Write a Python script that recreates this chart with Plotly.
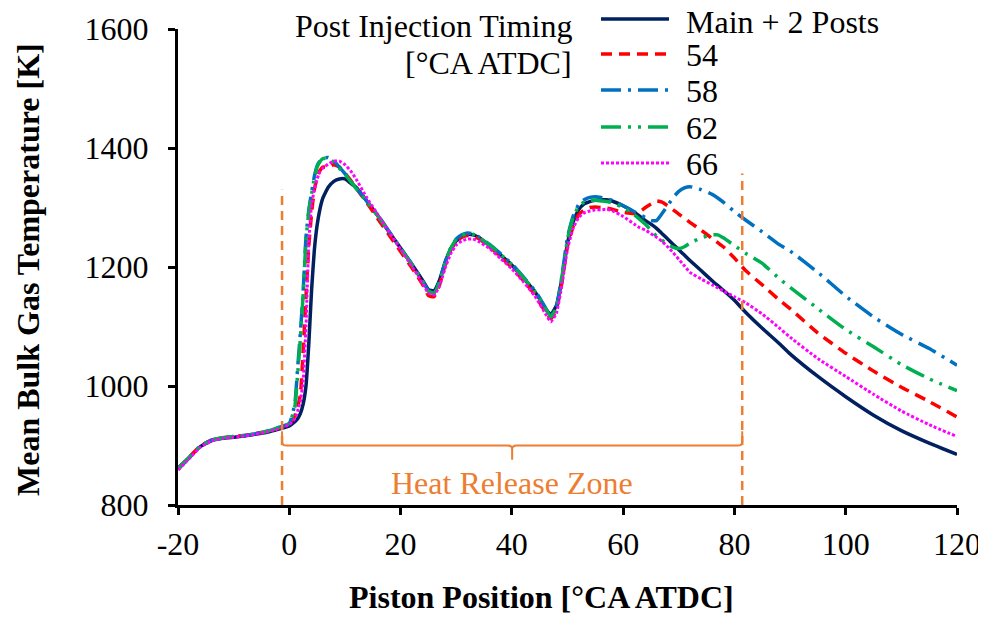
import plotly.graph_objects as go

# ---------------- data ----------------
crank = [-20, -18, -16, -14, -12, -10, -8, -6, -4, -2,
         0, 1, 1.5, 2, 2.5, 3, 3.5, 4, 4.5, 5,
         5.5, 6, 7, 8, 9, 10, 11, 12, 14, 16,
         18, 20, 22, 24, 25, 26, 27, 28, 29, 30,
         31, 32, 33, 34, 36, 38, 40, 42, 44, 45,
         46, 47, 48, 49, 50, 51, 52, 53, 54, 55,
         56, 57, 58, 60, 62, 63, 64, 65, 66, 67,
         68, 69, 70, 71, 72, 74, 76, 77, 78, 80,
         82, 85, 88, 90, 95, 100, 105, 110, 115, 120]

t_main = [862, 880, 898, 908, 912, 914, 916, 919, 922, 927,
          933, 940, 945, 954, 970, 1000, 1070, 1160, 1228, 1270,
          1297, 1315, 1334, 1344, 1348, 1348, 1341, 1334, 1310, 1285,
          1258, 1232, 1205, 1177, 1162, 1160, 1178, 1208, 1230, 1244,
          1251, 1255, 1254, 1250, 1236, 1220, 1203, 1182, 1160, 1146,
          1130, 1120, 1135, 1180, 1240, 1275, 1296, 1306, 1310, 1312,
          1313, 1313, 1311, 1303, 1292, 1285, 1278, 1272, 1265, 1256,
          1247, 1238, 1229, 1220, 1211, 1194, 1177, 1169, 1161, 1144,
          1124, 1097, 1072, 1054, 1016, 982, 951, 925, 904, 885]

t_54 = [860, 880, 899, 909, 913, 915, 917, 920, 924, 929,
        936, 950, 965, 985, 1060, 1150, 1235, 1290, 1330, 1350,
        1362, 1368, 1367, 1372, 1368, 1358, 1346, 1333, 1307, 1280,
        1253, 1226, 1199, 1170, 1152, 1150, 1170, 1203, 1228, 1243,
        1250, 1253, 1252, 1248, 1234, 1217, 1199, 1178, 1155, 1140,
        1125, 1113, 1128, 1175, 1235, 1268, 1288, 1296, 1300, 1301,
        1300, 1299, 1297, 1292, 1290, 1293, 1300, 1306, 1311, 1309,
        1303, 1296, 1289, 1282, 1275, 1262, 1248, 1241, 1234, 1215,
        1194, 1170, 1145, 1130, 1089, 1055, 1025, 998, 974, 948]

t_58 = [860, 879, 899, 909, 913, 915, 917, 920, 924, 930,
        937, 970, 1030, 1090, 1160, 1250, 1295, 1325, 1352, 1370,
        1378, 1383, 1384, 1378, 1368, 1357, 1345, 1333, 1310, 1286,
        1259, 1232, 1205, 1176, 1160, 1156, 1176, 1208, 1232, 1247,
        1254, 1257, 1256, 1251, 1238, 1222, 1205, 1184, 1162, 1148,
        1132, 1117, 1133, 1185, 1250, 1285, 1305, 1313, 1317, 1318,
        1317, 1315, 1312, 1303, 1293, 1288, 1283, 1278, 1278, 1290,
        1303, 1317, 1327, 1333, 1335, 1330, 1322, 1316, 1309, 1293,
        1279, 1259, 1238, 1227, 1191, 1151, 1116, 1087, 1063, 1035]

t_62 = [861, 880, 899, 909, 913, 915, 917, 920, 924, 930,
        937, 965, 1020, 1080, 1155, 1245, 1292, 1322, 1350, 1368,
        1377, 1382, 1383, 1376, 1366, 1356, 1344, 1332, 1309, 1285,
        1258, 1231, 1204, 1175, 1159, 1156, 1175, 1207, 1231, 1246,
        1253, 1256, 1255, 1250, 1237, 1221, 1204, 1183, 1161, 1147,
        1131, 1116, 1132, 1183, 1247, 1282, 1302, 1309, 1312, 1312,
        1311, 1310, 1308, 1300, 1288, 1280, 1272, 1262, 1252, 1245,
        1238, 1233, 1231, 1234, 1240, 1249, 1254, 1254, 1249, 1236,
        1223, 1206, 1181, 1166, 1130, 1095, 1066, 1036, 1012, 992]

t_66 = [859, 878, 897, 908, 912, 914, 916, 919, 923, 928,
        935, 945, 958, 975, 1010, 1100, 1240, 1305, 1330, 1348,
        1360, 1366, 1373, 1378, 1378, 1372, 1362, 1348, 1315, 1287,
        1258, 1230, 1202, 1172, 1156, 1153, 1168, 1198, 1222, 1237,
        1244, 1247, 1247, 1243, 1231, 1214, 1197, 1176, 1153, 1138,
        1122, 1108, 1122, 1170, 1230, 1265, 1283, 1291, 1294, 1296,
        1296, 1297, 1295, 1285, 1272, 1266, 1262, 1256, 1250, 1243,
        1234, 1224, 1213, 1202, 1191, 1180, 1170, 1165, 1160, 1150,
        1140, 1121, 1098, 1082, 1046, 1016, 986, 958, 935, 915]

series_names = ["Main + 2 Posts", "54", "58", "62", "66"]
series_values = [t_main, t_54, t_58, t_62, t_66]

x_ticks = [-20, 0, 20, 40, 60, 80, 100, 120]
y_ticks = [800, 1000, 1200, 1400, 1600]

hrz_start, hrz_end = -1.3, 81.4
hrz_top_start, hrz_top_end = 1330, 1357
brace_level, brace_tip, brace_end = 900, 876, 924
hrz_label = "Heat Release Zone"

# ---------------- styles ----------------
FONT = "Liberation Serif, Times New Roman, serif"
FS = 32
ORANGE = "#ED7D31"
colors = ["#002060", "#FF0000", "#0070C0", "#00B050", "#FF00FF"]
dashes = ["solid", "11px,7px", "20px,7px,3px,7px",
          "20px,7px,3px,7px,3px,7px", "3px,2px"]
widths = [3.5, 3.5, 3.5, 3.5, 3]

fig = go.Figure()
for name, vals, c, d, w in zip(series_names, series_values, colors, dashes, widths):
    fig.add_trace(go.Scatter(x=crank, y=vals, mode="lines", name=name,
                             line=dict(color=c, dash=d, width=w, shape="spline", smoothing=0.4),
                             showlegend=False))

# Heat release zone markers
shapes = []
shapes.append(dict(type="line", xref="x", yref="y", x0=hrz_start, x1=hrz_start,
                   y0=800, y1=hrz_top_start,
                   line=dict(color=ORANGE, width=2.5, dash="9px,6px")))
shapes.append(dict(type="line", xref="x", yref="y", x0=hrz_end, x1=hrz_end,
                   y0=800, y1=hrz_top_end,
                   line=dict(color=ORANGE, width=2.5, dash="9px,6px")))
mid = (hrz_start + hrz_end) / 2
path = (f"M {hrz_start},{brace_end} L {hrz_start},{brace_level+6} "
        f"Q {hrz_start},{brace_level} {hrz_start+0.8},{brace_level} "
        f"L {mid-0.8},{brace_level} Q {mid},{brace_level} {mid},{brace_level-6} "
        f"L {mid},{brace_tip} L {mid},{brace_level-6} "
        f"Q {mid},{brace_level} {mid+0.8},{brace_level} "
        f"L {hrz_end-0.8},{brace_level} Q {hrz_end},{brace_level} {hrz_end},{brace_level+6} "
        f"L {hrz_end},{brace_end}")
shapes.append(dict(type="path", xref="x", yref="y", path=path,
                   line=dict(color=ORANGE, width=2)))

annotations = [dict(x=mid, y=837, xref="x", yref="y", text=hrz_label,
                    showarrow=False, font=dict(family=FONT, size=FS, color=ORANGE),
                    xanchor="center", yanchor="middle")]

# manual legend (paper coords); screen px -> paper fraction of the plot area
def px_x(p):
    return (p - 178) / 779.0

def px_y(p):
    return (505 - p) / 476.0

leg_rows = [19, 54, 90, 127, 163]
text_rows = [22, 55, 91, 128, 164]
for name, c, d, w, row, trow in zip(series_names, colors, dashes, widths, leg_rows, text_rows):
    shapes.append(dict(type="line", xref="paper", yref="paper",
                       x0=px_x(601), x1=px_x(669), y0=px_y(row), y1=px_y(row),
                       line=dict(color=c, width=w, dash=d)))
    annotations.append(dict(x=px_x(684), y=px_y(trow), xref="paper", yref="paper",
                            text=name, showarrow=False, xanchor="left", yanchor="middle",
                            font=dict(family=FONT, size=FS, color="black")))

annotations.append(dict(x=px_x(574), y=px_y(26), xref="paper", yref="paper",
                        text="Post Injection Timing", showarrow=False,
                        xanchor="right", yanchor="middle",
                        font=dict(family=FONT, size=FS, color="black")))
annotations.append(dict(x=px_x(574), y=px_y(63), xref="paper", yref="paper",
                        text="[°CA ATDC]", showarrow=False,
                        xanchor="right", yanchor="middle",
                        font=dict(family=FONT, size=FS, color="black")))

# axis titles
annotations.append(dict(x=px_x(541), y=px_y(597), xref="paper", yref="paper",
                        text="<b>Piston Position [°CA ATDC]</b>", showarrow=False,
                        xanchor="center", yanchor="middle",
                        font=dict(family=FONT, size=FS, color="black")))
annotations.append(dict(x=px_x(28), y=px_y(270), xref="paper", yref="paper",
                        text="<b>Mean Bulk Gas Temperature [K]</b>", showarrow=False,
                        xanchor="center", yanchor="middle", textangle=-90,
                        font=dict(family=FONT, size=FS, color="black")))

# page body has an 8px default margin: shrink the figure so it fits the window
fig.update_layout(
    width=978, height=611,
    margin=dict(l=170, r=29, t=21, b=114, autoexpand=False),
    paper_bgcolor="white", plot_bgcolor="white",
    shapes=shapes, annotations=annotations,
    font=dict(family=FONT, size=FS, color="black"),
    showlegend=False,
)
fig.update_xaxes(range=[-20, 120], tickvals=x_ticks, ticktext=[str(v) for v in x_ticks],
                 showgrid=False, zeroline=False, showline=True, linecolor="black",
                 linewidth=3, ticks="outside", ticklen=7, tickwidth=3, tickcolor="black",
                 tickfont=dict(family=FONT, size=FS, color="black"), ticklabelstandoff=2,
                 automargin=False)
fig.update_yaxes(range=[800, 1600], tickvals=y_ticks, ticktext=[str(v) for v in y_ticks],
                 showgrid=False, zeroline=False, showline=True, linecolor="black",
                 linewidth=3, ticks="outside", ticklen=7, tickwidth=3, tickcolor="black",
                 tickfont=dict(family=FONT, size=FS, color="black"), ticklabelstandoff=13,
                 automargin=False)

fig.write_html("out.html")
